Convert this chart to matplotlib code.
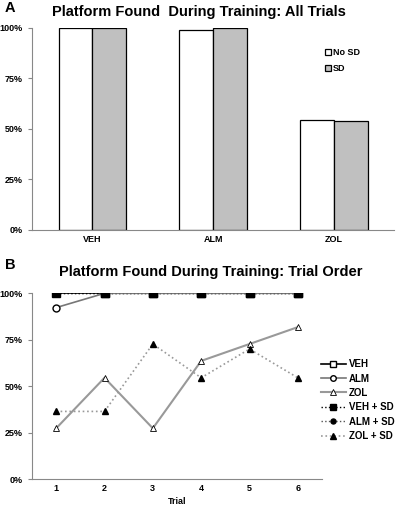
import numpy as np
import matplotlib
matplotlib.use("Agg")
import matplotlib.pyplot as plt
from matplotlib.ticker import PercentFormatter

plt.rcParams['font.family'] = ['Liberation Sans', 'DejaVu Sans']
plt.rcParams['font.weight'] = 'bold'

# Panel A data
groups = ["VEH", "ALM", "ZOL"]
no_sd = [100, 98.8, 54.6]
sd = [100, 100, 53.8]

# Panel B data
trials = [1, 2, 3, 4, 5, 6]
veh = [100, 100, 100, 100, 100, 100]
alm = [92.3, 100, 100, 100, 100, 100]
zol = [27.3, 54.5, 27.3, 63.6, 72.7, 81.8]
veh_sd = [100, 100, 100, 100, 100, 100]
alm_sd = [100, 100, 100, 100, 100, 100]
zol_sd = [36.4, 36.4, 72.7, 54.5, 70.0, 54.5]

fig = plt.figure(figsize=(3.97, 5.07), dpi=100)

def style_axes(ax):
    for s in ['top', 'right']:
        ax.spines[s].set_visible(False)
    for s in ['left', 'bottom']:
        ax.spines[s].set_color('#888888')
        ax.spines[s].set_linewidth(0.8)
    ax.tick_params(axis='both', labelsize=6.5, colors='#888888', labelcolor='black', length=3, width=0.8)
    ax.set_ylim(0, 100)
    ax.set_yticks([0, 25, 50, 75, 100])
    ax.yaxis.set_major_formatter(PercentFormatter(decimals=0))

# --- Panel A ---
axA = fig.add_axes([0.0806, 0.5464, 0.913, 0.3984])
x = np.arange(len(groups))
w = 0.28
axA.bar(x - w / 2, no_sd, w, color='white', edgecolor='black', linewidth=0.9, label='No SD')
axA.bar(x + w / 2, sd, w, color='#c0c0c0', edgecolor='black', linewidth=0.9, label='SD')
axA.set_xlim(-0.5, 2.5)
axA.set_xticks(x)
axA.set_xticklabels(groups)
style_axes(axA)
axA.tick_params(axis='x', length=0)
axA.legend(loc='upper left', bbox_to_anchor=(0.785, 0.94), frameon=False, fontsize=6.5,
           handlelength=0.7, handleheight=0.7, handletextpad=0.2, labelspacing=0.8)
fig.text(0.5, 0.977, "Platform Found  During Training: All Trials", ha='center', va='center',
         fontsize=10.5, fontweight='bold')
fig.text(0.012, 0.984, "A", ha='left', va='center', fontsize=10.5, fontweight='bold')

# --- Panel B ---
axB = fig.add_axes([0.0806, 0.0552, 0.7305, 0.3663])
gray = '#999999'
axB.plot(trials, alm_sd, ':', color='#555555', lw=1.0, marker='o', ms=4.5, mfc='black', mec='black', label='ALM + SD', zorder=2)
axB.plot(trials, veh, '-', color='black', lw=1.2, marker='s', ms=5, mfc='white', mec='black', label='VEH', zorder=2)
axB.plot(trials, alm, '-', color='#777777', lw=1.2, marker='o', ms=5, mfc='white', mec='black', label='ALM', zorder=3)
axB.plot(trials, zol, '-', color=gray, lw=1.5, marker='^', ms=5, mfc='white', mec='black', mew=0.6, label='ZOL', zorder=3)
axB.plot(trials, veh_sd, ':', color='black', lw=1.0, marker='s', ms=5.5, mfc='black', mec='black', label='VEH + SD', zorder=4)
axB.plot(trials, zol_sd, ':', color=gray, lw=1.2, marker='^', ms=5, mfc='black', mec='black', label='ZOL + SD', zorder=3)
# grey solid line on top of the 100% row from trial 2 onward
axB.plot(trials[1:], veh[1:], '-', color='#777777', lw=1.2, marker='s', ms=5.5, mfc='black', mec='black', zorder=5)
axB.set_xlim(0.5, 6.5)
axB.set_xticks(trials)
style_axes(axB)
axB.tick_params(axis='x', length=0)
axB.set_xlabel("Trial", fontsize=6.5, fontweight='bold', labelpad=3)
h, l = axB.get_legend_handles_labels()
order = ['VEH', 'ALM', 'ZOL', 'VEH + SD', 'ALM + SD', 'ZOL + SD']
hd = dict(zip(l, h))
axB.legend([hd[k] for k in order], order, loc='center left', bbox_to_anchor=(0.995, 0.425), frameon=False,
           fontsize=7, handlelength=2.6, handletextpad=0.3, labelspacing=0.45, markerscale=0.8,
           borderaxespad=0, borderpad=0)
fig.text(0.53, 0.463, "Platform Found During Training: Trial Order", ha='center', va='center',
         fontsize=10.5, fontweight='bold')
fig.text(0.012, 0.477, "B", ha='left', va='center', fontsize=10.5, fontweight='bold')

fig.savefig("out.png", dpi=100)
